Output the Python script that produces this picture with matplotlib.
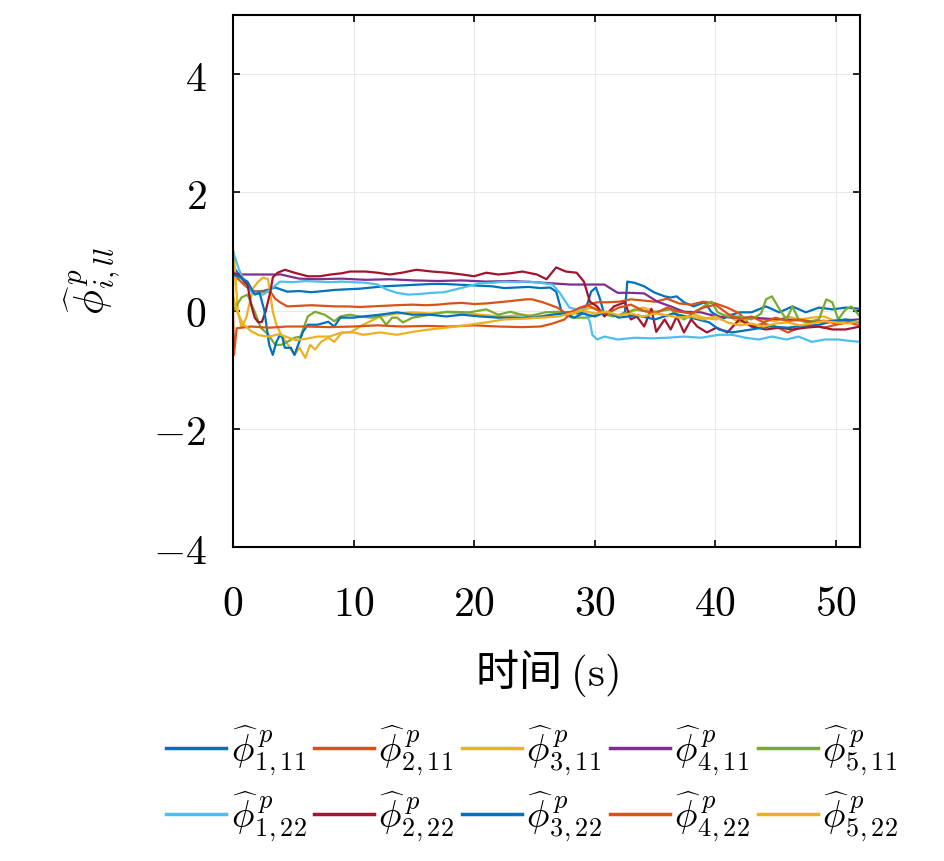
import matplotlib
matplotlib.use("Agg")
import matplotlib.pyplot as plt
from matplotlib.ticker import FuncFormatter

plt.rcParams['mathtext.fontset'] = 'cm'
plt.rcParams['font.family'] = ['DejaVu Serif']

# ---------------- data ----------------
t_1_11 = [0, 0.2, 0.7, 1.2, 1.8, 2.5, 3.5, 4.5, 5.5, 6.5, 7.5, 8.5, 9.5, 10.5, 11.5, 12.5, 13.5, 14.5,
          15.5, 16.5, 17.5, 18.5, 19.5, 20.5, 21.5, 22.5, 23.5, 24.5, 25.5, 26.3, 26.8, 27.1, 27.3, 27.7,
          28.1, 28.6, 29.0, 29.4, 29.7, 30.1, 30.4, 30.8, 31.3, 31.9, 32.5, 32.7, 33.3, 34.1, 34.9, 35.8,
          36.3, 36.8, 37.4, 38.2, 39.1, 39.7, 40.3, 40.5, 41.2, 42.0, 43.0, 44.2, 45.3, 46.4, 47.5, 48.6,
          49.7, 50.8, 52]
v_1_11 = [0.66, 0.69, 0.56, 0.39, 0.32, 0.33, 0.39, 0.32, 0.33, 0.31, 0.33, 0.35, 0.36, 0.37, 0.39, 0.41,
          0.42, 0.43, 0.44, 0.45, 0.45, 0.44, 0.43, 0.42, 0.41, 0.38, 0.39, 0.40, 0.38, 0.39, 0.32, 0.10,
          -0.07, -0.04, -0.03, -0.05, -0.02, 0.12, 0.32, 0.39, 0.22, -0.07, -0.05, -0.10, -0.03, 0.49,
          0.47, 0.41, 0.31, 0.24, 0.22, 0.24, 0.14, 0.07, 0.14, -0.03, -0.10, -0.15, -0.08, -0.03, -0.03,
          0.07, -0.03, 0.07, -0.03, 0.05, 0.02, 0.05, 0.03]

t_2_11 = [0, 0.5, 1.0, 1.8, 2.5, 3.1, 3.5, 3.9, 4.5, 5.5, 6.5, 7.5, 8.5, 9.5, 10.5, 11.5, 12.5, 13.5,
          14.9, 16, 17, 18, 19.0, 20, 21, 22, 23, 24.3, 24.8, 25.7, 26.9, 27.5, 28.1, 28.8, 29.5, 30.2,
          31, 32, 33, 34, 35, 36, 37, 38, 39, 40, 41, 42, 43, 44, 45, 46, 47, 48, 49, 50, 51, 52]
v_2_11 = [0.60, 0.52, 0.42, 0.32, 0.32, 0.32, 0.20, 0.14, 0.07, 0.08, 0.09, 0.08, 0.07, 0.07, 0.06, 0.07,
          0.08, 0.09, 0.10, 0.09, 0.10, 0.12, 0.13, 0.11, 0.12, 0.14, 0.16, 0.19, 0.19, 0.14, 0.05, -0.03,
          -0.02, 0.05, 0.10, 0.14, 0.14, 0.15, 0.19, 0.17, 0.15, 0.20, 0.12, 0.10, 0.15, 0.12, 0.05, -0.05,
          -0.27, -0.22, -0.27, -0.37, -0.29, -0.25, -0.29, -0.24, -0.20, -0.17]

t_3_11 = [0, 0.05, 0.4, 0.7, 1.1, 1.4, 1.7, 2.1, 2.5, 2.9, 3.1, 3.3, 3.6, 4.0, 4.4, 5.1, 5.5, 6.0, 6.4,
          6.8, 7.3, 7.9, 8.4, 9.0, 9.8, 10.8, 11.5, 12.2, 13.6, 14.9, 16.3, 17.7, 19.6, 21, 22.5, 24,
          25.5, 27, 28, 29, 30, 31, 32, 33, 34, 35, 36, 37, 38, 39, 40, 41, 42, 43, 44, 45, 46, 47, 48,
          49, 50, 51, 52]
v_3_11 = [0.0, 1.0, 0.0, -0.29, -0.12, 0.15, 0.39, 0.49, 0.56, 0.53, 0.27, -0.02, -0.24, -0.41, -0.53,
          -0.75, -0.63, -0.80, -0.58, -0.66, -0.53, -0.46, -0.53, -0.38, -0.36, -0.24, -0.17, -0.10,
          -0.05, -0.03, -0.05, -0.03, -0.05, -0.08, -0.10, -0.07, -0.10, -0.05, -0.08, 0.02, 0.05, -0.05,
          -0.08, -0.02, 0.05, -0.02, -0.10, 0.0, -0.05, -0.12, -0.15, -0.08, -0.20, -0.12, -0.15, -0.18,
          -0.10, -0.15, -0.12, -0.10, -0.18, -0.15, -0.20]

t_4_11 = [0, 1, 2, 3, 4, 4.6, 5.5, 7, 9, 11, 13, 15, 17, 19, 21, 23, 25, 26.5, 28, 29.5, 30.8, 31.9,
          33.0, 34.1, 35.2, 36.3, 37.4, 38.8, 40.1, 41.5, 43.0, 44.5, 45.9, 47.3, 48.6, 50.2, 52]
v_4_11 = [0.62, 0.61, 0.61, 0.61, 0.61, 0.58, 0.54, 0.53, 0.54, 0.52, 0.53, 0.51, 0.50, 0.51, 0.49, 0.50,
          0.48, 0.46, 0.44, 0.44, 0.44, 0.30, 0.30, 0.29, 0.15, 0.07, -0.02, -0.03, -0.10, -0.12, -0.12,
          -0.14, -0.15, -0.17, -0.19, -0.17, -0.15]

t_5_11 = [0, 0.2, 0.7, 1.2, 1.8, 2.3, 2.9, 3.5, 4.0, 4.5, 5.1, 5.6, 6.2, 6.8, 7.6, 8.4, 8.9, 9.7, 10.5,
          11.5, 12.2, 12.7, 13.2, 13.6, 14.1, 14.9, 16.3, 17.7, 19.6, 21.0, 22.0, 23.0, 24.5, 25.9, 27.0,
          28.1, 29.3, 30.5, 31.5, 32.5, 33.3, 34.7, 36.3, 37.4, 38.5, 39.7, 40.2, 41.0, 42.0, 43.0, 43.8,
          44.2, 44.7, 45.3, 45.9, 46.4, 46.9, 47.5, 48.6, 49.2, 49.7, 50.2, 50.8, 51.3, 52]
v_5_11 = [0.0, 0.05, 0.22, 0.27, -0.02, -0.29, -0.40, -0.58, -0.58, -0.53, -0.46, -0.44, -0.10, -0.02,
          -0.07, -0.18, -0.10, -0.07, -0.10, -0.12, -0.10, -0.24, -0.12, -0.12, -0.20, -0.12, -0.07,
          -0.02, -0.03, 0.02, -0.07, -0.02, -0.10, -0.03, -0.02, -0.12, -0.12, -0.05, -0.10, -0.05, 0.02,
          -0.03, 0.02, -0.15, 0.0, 0.15, -0.03, -0.10, -0.10, -0.15, -0.05, 0.19, 0.24, 0.03, -0.15, 0.07,
          -0.15, -0.20, -0.15, 0.19, 0.14, -0.15, 0.02, 0.07, -0.10]

t_1_22 = [0, 0.5, 1.0, 1.6, 2.5, 3.3, 3.9, 5, 6, 7, 8, 9, 10, 11, 12, 12.7, 13.6, 14.5, 15.5, 16.5, 17.5,
          18.5, 19.5, 20.4, 21.5, 22.5, 23.5, 24.5, 25.5, 26.5, 27.1, 27.9, 28.5, 29.0, 29.6, 29.8, 30.2,
          30.8, 31.9, 33.3, 34.7, 36.0, 37.4, 38.8, 40.3, 41.4, 42.5, 43.6, 44.7, 45.9, 46.9, 48.0, 49.1,
          50.2, 51.0, 52]
v_1_22 = [1.0, 0.69, 0.48, 0.30, 0.27, 0.39, 0.49, 0.48, 0.50, 0.49, 0.48, 0.49, 0.48, 0.47, 0.44, 0.36,
          0.30, 0.27, 0.28, 0.30, 0.31, 0.36, 0.41, 0.46, 0.47, 0.49, 0.48, 0.49, 0.47, 0.44, 0.30, 0.05,
          0.02, 0.05, -0.19, -0.41, -0.49, -0.44, -0.49, -0.46, -0.47, -0.46, -0.44, -0.46, -0.41, -0.41,
          -0.46, -0.49, -0.44, -0.49, -0.44, -0.53, -0.49, -0.49, -0.51, -0.53]

t_2_22 = [0, 0.6, 1.2, 1.5, 1.8, 2.1, 2.4, 2.7, 3.1, 3.3, 3.7, 4.3, 5.1, 6.2, 7.2, 8.1, 9.0, 9.7, 11.0,
          12.0, 13.0, 14.0, 15.2, 16.5, 17.8, 19.0, 20.0, 21.0, 22.0, 23.0, 24.0, 25.2, 26.0, 26.8, 27.6,
          28.5, 29.1, 29.6, 30.2, 30.8, 31.6, 32.5, 33.0, 33.5, 34.1, 34.7, 35.1, 35.8, 36.3, 36.8, 37.4,
          38.0, 38.5, 39.3, 40.1, 41.0, 42.0, 43.0, 44.2, 45.3, 46.4, 47.5, 48.6, 49.7, 50.8, 52]
v_2_22 = [0.64, 0.58, 0.44, 0.10, -0.12, -0.20, -0.19, -0.02, 0.32, 0.56, 0.64, 0.69, 0.64, 0.58, 0.58,
          0.61, 0.63, 0.66, 0.66, 0.64, 0.61, 0.64, 0.69, 0.66, 0.64, 0.61, 0.58, 0.64, 0.61, 0.63, 0.66,
          0.61, 0.53, 0.73, 0.66, 0.64, 0.49, 0.15, 0.07, -0.10, 0.07, 0.14, -0.15, -0.10, -0.27, 0.03,
          -0.36, -0.15, -0.32, -0.10, -0.37, -0.15, -0.27, -0.37, -0.29, -0.37, -0.15, -0.27, -0.32,
          -0.29, -0.32, -0.29, -0.27, -0.32, -0.32, -0.27]

t_3_22 = [0, 0.4, 1.2, 1.8, 2.2, 2.6, 2.8, 3.0, 3.3, 3.6, 3.9, 4.1, 4.3, 4.8, 5.1, 5.4, 5.8, 6.2, 7.0,
          7.9, 8.4, 8.9, 10.0, 10.8, 12.2, 13.6, 14.9, 16.3, 17.7, 19.0, 20.5, 22.0, 23.5, 25.0, 26.5,
          27.5, 28.3, 29.0, 30.0, 31.0, 32.0, 33.5, 35.0, 36.5, 38.0, 39.5, 40.3, 41.4, 43.0, 44.5, 46.0,
          47.5, 48.6, 50.0, 50.8, 52]
v_3_22 = [0.60, 0.58, 0.49, 0.27, 0.30, 0.0, -0.29, -0.58, -0.75, -0.53, -0.41, -0.46, -0.63, -0.63,
          -0.75, -0.58, -0.36, -0.24, -0.24, -0.19, -0.27, -0.12, -0.12, -0.10, -0.07, -0.03, -0.07,
          -0.07, -0.10, -0.07, -0.10, -0.12, -0.12, -0.12, -0.07, -0.05, -0.12, -0.05, -0.10, -0.02,
          -0.12, -0.08, -0.15, -0.05, -0.12, -0.20, -0.32, -0.37, -0.32, -0.27, -0.29, -0.25, -0.24,
          -0.17, -0.15, -0.20]

t_4_22 = [0, 0.08, 0.3, 1.5, 3, 4.5, 6, 8, 10, 12, 14, 16, 18, 20, 22, 24, 25.5, 26.5, 27.5, 28.1, 28.8,
          29.5, 30.3, 31, 32, 33, 34, 35, 36, 37, 38, 39, 40, 41, 42, 43, 44, 45, 46, 47, 48, 49, 50, 51, 52]
v_4_22 = [0.0, -0.75, -0.30, -0.27, -0.29, -0.27, -0.27, -0.28, -0.27, -0.25, -0.27, -0.26, -0.27, -0.25,
          -0.27, -0.28, -0.27, -0.22, -0.15, -0.02, 0.05, 0.08, 0.0, -0.05, 0.05, 0.10, 0.0, -0.05, 0.05,
          -0.02, -0.05, 0.05, 0.10, -0.05, -0.15, -0.10, -0.20, -0.12, -0.18, -0.15, -0.20, -0.17, -0.22,
          -0.20, -0.25]

t_5_22 = [0, 0.3, 0.8, 1.5, 2.2, 3.0, 3.8, 4.5, 5.2, 6.0, 7.0, 8.0, 9.0, 10.0, 10.8, 12.2, 13.6, 14.9,
          16.3, 17.7, 19.6, 21, 22.5, 24, 25.5, 27, 28, 29, 30, 31, 32, 33, 34, 35, 36, 37, 38, 39, 40,
          41, 42, 43, 44, 45, 46, 47, 48, 49, 50, 51, 52]
v_5_22 = [0.25, 0.0, -0.22, -0.35, -0.42, -0.44, -0.40, -0.45, -0.50, -0.48, -0.44, -0.44, -0.37, -0.37,
          -0.41, -0.37, -0.41, -0.36, -0.32, -0.29, -0.24, -0.20, -0.15, -0.14, -0.12, -0.10, -0.05, 0.0,
          -0.05, -0.02, -0.08, -0.05, -0.10, -0.05, -0.08, -0.12, -0.10, -0.15, -0.10, -0.20, -0.25,
          -0.22, -0.27, -0.22, -0.20, -0.25, -0.22, -0.18, -0.20, -0.22, -0.17]

labels = [r'$\widehat{\phi}^{\,p}_{1,11}$', r'$\widehat{\phi}^{\,p}_{2,11}$', r'$\widehat{\phi}^{\,p}_{3,11}$',
          r'$\widehat{\phi}^{\,p}_{4,11}$', r'$\widehat{\phi}^{\,p}_{5,11}$',
          r'$\widehat{\phi}^{\,p}_{1,22}$', r'$\widehat{\phi}^{\,p}_{2,22}$', r'$\widehat{\phi}^{\,p}_{3,22}$',
          r'$\widehat{\phi}^{\,p}_{4,22}$', r'$\widehat{\phi}^{\,p}_{5,22}$']
colors = ['#0072BD', '#D95319', '#EDB120', '#7E2F8E', '#77AC30',
          '#4DBEEE', '#A2142F', '#0072BD', '#D95319', '#EDB120']
series = [(t_1_11, v_1_11), (t_2_11, v_2_11), (t_3_11, v_3_11), (t_4_11, v_4_11), (t_5_11, v_5_11),
          (t_1_22, v_1_22), (t_2_22, v_2_22), (t_3_22, v_3_22), (t_4_22, v_4_22), (t_5_22, v_5_22)]

xticks = [0, 10, 20, 30, 40, 50]
yticks = [-4, -2, 0, 2, 4]

# ---------------- figure ----------------
fig = plt.figure(figsize=(9.45, 8.61), dpi=100)
ax = fig.add_axes([233/945, 1-547/861, (860-233)/945, (547-15)/861])

handles = []
for (tt, vv), c, lab in zip(series, colors, labels):
    h, = ax.plot(tt, vv, color=c, lw=1.6, label=lab)
    handles.append(h)

ax.set_xlim(0, 52)
ax.set_ylim(-4, 5)
ax.set_xticks(xticks)
ax.set_yticks(yticks)
fmt = FuncFormatter(lambda v, p: r'$%d$' % v if v >= 0 else r'$-%d$' % (-v))
ax.xaxis.set_major_formatter(fmt)
ax.yaxis.set_major_formatter(fmt)
ax.tick_params(direction='in', length=5, width=1.2, labelsize=30, top=True, right=True)
ax.tick_params(axis='x', pad=26)
ax.tick_params(axis='y', pad=19)
ax.grid(True, color='#e8e8e8', lw=0.7)
ax.set_axisbelow(True)
for s in ax.spines.values():
    s.set_linewidth(1.5)

ax.set_xlabel('时间 $(\\mathrm{s})$', fontsize=31, family=['Noto Sans CJK SC', 'DejaVu Sans'], labelpad=16)
ax.set_ylabel(r'$\widehat{\phi}^{\,p}_{i,ll}$', fontsize=30, labelpad=22)

order = [0, 5, 1, 6, 2, 7, 3, 8, 4, 9]
leg = fig.legend([handles[i] for i in order], [labels[i] for i in order], ncol=5,
                 loc='center', bbox_to_anchor=(532/945, 1-784/861), frameon=False,
                 fontsize=27, handlelength=1.6, handletextpad=0.12, columnspacing=0.2,
                 labelspacing=0.3)
for l in leg.get_lines():
    l.set_linewidth(2.5)

fig.savefig('out.png', dpi=100)
